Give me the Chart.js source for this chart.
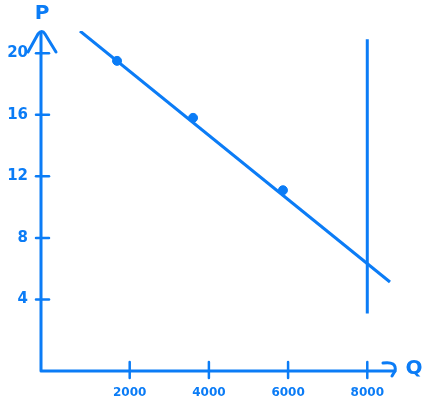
<!DOCTYPE html>
<html><head><meta charset="utf-8">
<script src="https://cdn.jsdelivr.net/npm/chart.js@4"></script>
<style>html,body{margin:0;padding:0;background:#fff}#wrap{width:424px;height:405px}</style>
</head><body><div id="wrap"><canvas id="c"></canvas></div>
<script>
const demandQ = [745, 8573];
const demandP = [21.44, 5.14];
const pointQ = [1680, 3600, 5870];
const pointP = [19.5, 15.8, 11.1];
const supplyQ = [8000, 8000];
const supplyP = [20.9, 3.1];
const qTicks = [2000, 4000, 6000, 8000];
const pTicks = [4, 8, 12, 16, 20];
const xLabel = 'Q';
const yLabel = 'P';
const BLUE = '#0b7cf6';

const zip = (a, b) => a.map((v, i) => ({x: v, y: b[i]}));

const axesPlugin = {
  id: 'axesPlugin',
  afterDatasetsDraw(chart) {
    const {ctx, chartArea: a, scales: {x, y}} = chart;
    ctx.save();
    ctx.strokeStyle = BLUE; ctx.fillStyle = BLUE;
    ctx.lineWidth = 3; ctx.lineCap = 'round'; ctx.lineJoin = 'round';
    ctx.beginPath();
    ctx.moveTo(a.left, a.top + 2); ctx.lineTo(a.left, a.bottom); ctx.lineTo(a.right, a.bottom);
    ctx.stroke();
    // y arrow
    ctx.beginPath();
    ctx.moveTo(a.left - 13, a.top + 21); ctx.lineTo(a.left - 3, a.top + 3);
    ctx.quadraticCurveTo(a.left + 1, a.top - 2, a.left + 4, a.top + 3);
    ctx.lineTo(a.left + 15, a.top + 21);
    ctx.stroke();
    // x arrow hook
    ctx.beginPath();
    ctx.moveTo(a.right - 12, a.bottom - 8); ctx.quadraticCurveTo(a.right + 2, a.bottom - 10, a.right, a.bottom);
    ctx.lineTo(a.right - 3, a.bottom + 5);
    ctx.stroke();
    ctx.lineWidth = 2.5;
    pTicks.forEach(v => { const py = y.getPixelForValue(v); ctx.beginPath(); ctx.moveTo(a.left - 5, py); ctx.lineTo(a.left + 8, py); ctx.stroke(); });
    qTicks.forEach(v => { const px = x.getPixelForValue(v); ctx.beginPath(); ctx.moveTo(px, a.bottom - 9); ctx.lineTo(px, a.bottom + 7); ctx.stroke(); });
    ctx.font = 'bold 20px "DejaVu Sans"';
    ctx.textAlign = 'center'; ctx.textBaseline = 'middle';
    ctx.fillText(yLabel, a.left + 1, 14);
    ctx.fillText(xLabel, a.right + 19, a.bottom - 2);
    ctx.restore();
  }
};

new Chart(document.getElementById('c'), {
  type: 'scatter',
  data: {
    datasets: [
      {data: zip(demandQ, demandP), showLine: true, borderColor: BLUE, borderWidth: 3, pointRadius: 0},
      {data: zip(supplyQ, supplyP), showLine: true, borderColor: BLUE, borderWidth: 3, pointRadius: 0},
      {data: zip(pointQ, pointP), showLine: false, backgroundColor: BLUE, borderColor: BLUE, pointRadius: 4.5, pointStyle: 'circle'}
    ]
  },
  options: {
    responsive: true, maintainAspectRatio: false, animation: false,
    layout: {padding: {top: 31, right: 29, left: 0, bottom: 0}},
    plugins: {legend: {display: false}, tooltip: {enabled: false}},
    scales: {
      x: {
        type: 'linear', min: -240, max: 8700,
        afterFit(s) { s.height = 34; },
        afterBuildTicks(s) { s.ticks = qTicks.map(v => ({value: v})); },
        grid: {display: false, drawTicks: false}, border: {display: false},
        ticks: {color: BLUE, font: {family: 'DejaVu Sans', size: 12, weight: 'bold'}, padding: 15, maxRotation: 0,
          callback: v => String(v)}
      },
      y: {
        type: 'linear', min: -0.64, max: 21.44,
        afterFit(s) { s.width = 41; },
        afterBuildTicks(s) { s.ticks = pTicks.map(v => ({value: v})); },
        grid: {display: false, drawTicks: false}, border: {display: false},
        ticks: {color: BLUE, font: {family: 'DejaVu Sans', size: 15, weight: 'bold'}, padding: 13,
          callback: v => String(v)}
      }
    }
  },
  plugins: [axesPlugin]
});
</script></body></html>
